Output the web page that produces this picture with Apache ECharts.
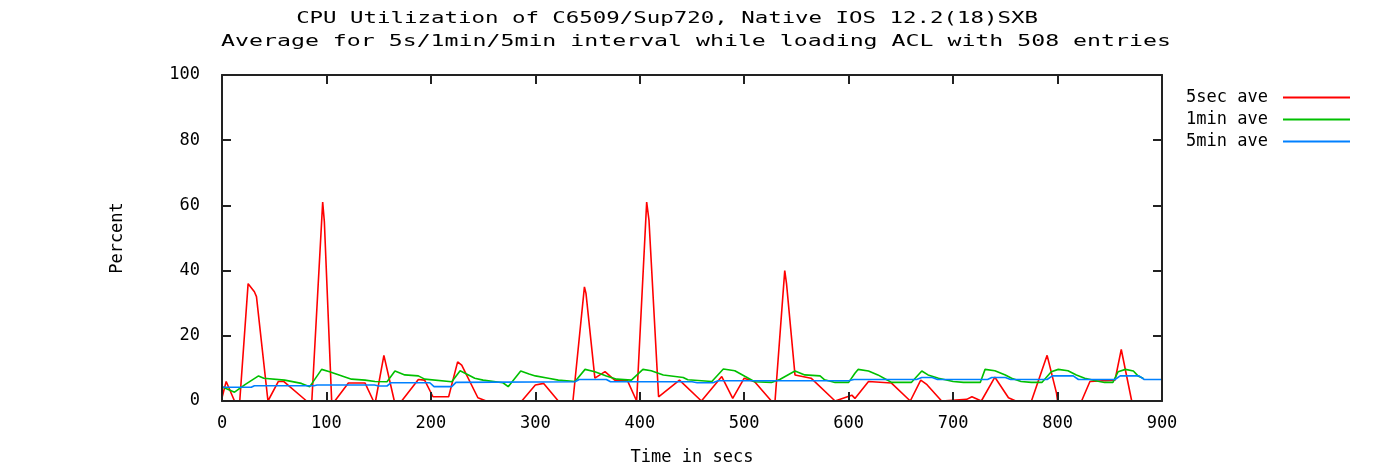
<!DOCTYPE html>
<html>
<head>
<meta charset="utf-8">
<script src="https://cdn.jsdelivr.net/npm/echarts@6/dist/echarts.min.js"></script>
<style>
  html, body { margin: 0; padding: 0; background: #fff; }
  #myChart { width: 1381px; height: 465px; }
</style>
</head>
<body>
<div id="myChart"></div>
<script>
// [time in secs, percent]
const sec5Ave = [
  [0, 1], [4, 6], [12, 0], [17, 0], [25, 36], [31, 33.5], [33, 32], [44, 0],
  [54, 6], [59, 6], [81, 0], [86, 0], [96.4, 61], [98, 55], [105, 0], [108, 0],
  [121, 5.5], [137, 5.5], [145, 0], [147, 0], [155, 14], [165, 0], [172, 0],
  [188, 6.6], [194, 6.4], [202, 1.3], [217, 1.3], [225.6, 12], [229.5, 11],
  [245, 1], [253, 0], [287, 0], [300, 4.9], [308, 5.4], [322, 0], [336, 0],
  [347, 35], [348.5, 33], [357, 7], [366.7, 9], [376, 6.4], [388, 6.4], [397, 0],
  [406.6, 61], [408.8, 55.5], [418, 1.3], [438, 6.4], [459, 0], [478.5, 7.5],
  [489, 0.8], [500, 7], [510, 5.9], [526, 0], [529.5, 0], [538.8, 40], [540.5, 36],
  [548.6, 8], [564, 7], [587, 0], [603, 1.8], [606, 0.8], [619, 6], [641, 5.5],
  [659, 0], [669, 6.4], [675, 5], [689, 0], [713, 0.5], [718, 1.3], [727, 0],
  [740, 7.3], [753, 1], [760, 0], [775, 0], [790, 14], [799, 2.4], [800, 0],
  [823, 0], [831, 6], [855, 6.4], [861, 15.8], [871, 0]
]
const min1Ave = [
  [0, 4.4], [12, 2.7], [22, 5], [35, 7.7], [40, 7], [60, 6.4], [76, 5.4], [84, 4.4],
  [95.4, 9.7], [103, 9], [124, 6.7], [137, 6.4], [146.5, 6], [158, 5.9], [165.6, 9.2],
  [175, 8], [188, 7.7], [194, 6.7], [220, 5.9], [228, 9.3], [236, 8], [242, 7],
  [250, 6.4], [269, 5.6], [274, 4.4], [286, 9.2], [294, 8.3], [300, 7.7], [312.5, 7],
  [322, 6.4], [338, 6], [347.6, 9.7], [357, 9], [368, 7.7], [378, 6.7], [392, 6.4],
  [403, 9.7], [411, 9.3], [422.5, 8], [441.6, 7.2], [446, 6.5], [469, 6], [480, 9.8],
  [491, 9.3], [501, 7.5], [510, 5.9], [526, 5.7], [534, 6.6], [548.6, 9.2], [558, 8],
  [572.6, 7.7], [577, 6.5], [587, 5.7], [600, 5.7], [606, 8.5], [609, 9.7], [619, 9.2],
  [628, 8], [636, 6.6], [641, 5.7], [660, 5.7], [670, 9.2], [676, 8], [686, 7],
  [700, 6], [710, 5.7], [726, 5.7], [730.6, 9.7], [740, 9.3], [750, 8], [756, 7],
  [765, 6], [775, 5.7], [785, 5.7], [794, 9], [800.7, 9.7], [810, 9.3], [818, 8],
  [826, 7], [840, 6], [845, 5.7], [853, 5.7], [858, 9], [865, 9.7], [872.6, 9.2],
  [877, 7.7], [882, 7]
]
const min5Ave = [
  [0, 4.2], [28, 4.2], [31, 4.7], [88, 4.7], [91, 4.9], [146, 4.9], [150, 4.6],
  [158, 4.6], [162, 5.6], [199, 5.6], [203, 4.4], [220, 4.4], [224, 5.7], [338, 5.9],
  [342, 6.6], [368, 6.6], [372, 5.9], [450, 5.9], [455, 5.6], [470, 5.6], [475, 6.2],
  [600, 6.2], [605, 6.6], [665, 6.6], [670, 7.2], [680, 7.2], [685, 6.6], [733, 6.6],
  [737, 7.2], [750, 7.2], [755, 6.6], [790, 6.6], [795, 7.7], [815, 7.7], [820, 6.6],
  [855, 6.6], [860, 7.7], [878, 7.7], [883, 6.6], [900, 6.6]
]
const seriesNames = ['5sec ave', '1min ave', '5min ave']
const seriesColors = ['#ff0000', '#00c000', '#0080ff']
const titleLines = [
  'CPU Utilization of C6509/Sup720, Native IOS 12.2(18)SXB',
  'Average for 5s/1min/5min interval while loading ACL with 508 entries'
]

const FONT = '"DejaVu Sans Mono", monospace'
const chart = echarts.init(document.getElementById('myChart'), null, { renderer: 'canvas' })

function frameAxis(pos, isX) {
  return {
    type: 'value',
    position: pos,
    min: 0,
    max: isX ? 900 : 100,
    interval: isX ? 100 : 20,
    z: 10,
    splitLine: { show: false },
    axisLine: { show: true, onZero: false, lineStyle: { color: '#222', width: 2 } },
    axisTick: { show: true, inside: true, length: 9, lineStyle: { color: '#222', width: 2 } },
    axisLabel: { show: false }
  }
}

const xMain = frameAxis('bottom', true)
xMain.axisLabel = { show: true, color: '#000', fontFamily: FONT, fontSize: 17, margin: 14 }
xMain.name = 'Time in secs'
xMain.nameLocation = 'middle'
xMain.nameGap = 48
xMain.nameTextStyle = { color: '#000', fontFamily: FONT, fontSize: 17 }

const yMain = frameAxis('left', false)
yMain.axisLabel = { show: true, color: '#000', fontFamily: FONT, fontSize: 17, margin: 22 }
yMain.name = 'Percent'
yMain.nameLocation = 'middle'
yMain.nameGap = 96
yMain.nameTextStyle = { color: '#000', fontFamily: FONT, fontSize: 17 }

const data = [sec5Ave, min1Ave, min5Ave]

const option = {
  animation: false,
  backgroundColor: '#fff',
  grid: { left: 222, right: 219, top: 75, bottom: 64, outerBoundsMode: 'none' },
  graphic: [
    {
      type: 'text', x: 667, y: 19, scaleX: 1.4,
      style: { text: titleLines[0], textAlign: 'center', textVerticalAlign: 'middle', font: '16px ' + FONT, fill: '#000' }
    },
    {
      type: 'text', x: 696, y: 42, scaleX: 1.45,
      style: { text: titleLines[1], textAlign: 'center', textVerticalAlign: 'middle', font: '16px ' + FONT, fill: '#000' }
    }
  ],
  legend: {
    orient: 'vertical',
    right: 26,
    top: 84,
    align: 'right',
    icon: 'rect',
    itemWidth: 67,
    itemHeight: 2,
    itemGap: 5,
    textStyle: { color: '#000', fontFamily: FONT, fontSize: 17, lineHeight: 14, padding: [0, 10, 0, 0] },
    data: seriesNames
  },
  xAxis: [xMain, frameAxis('top', true)],
  yAxis: [yMain, frameAxis('right', false)],
  series: seriesNames.map((name, i) => ({
    name: name,
    type: 'line',
    xAxisIndex: 0,
    yAxisIndex: 0,
    data: data[i],
    symbol: 'none',
    z: 2 + i,
    color: seriesColors[i],
    lineStyle: { color: seriesColors[i], width: 1.6 }
  }))
}

chart.setOption(option)
</script>
</body>
</html>
